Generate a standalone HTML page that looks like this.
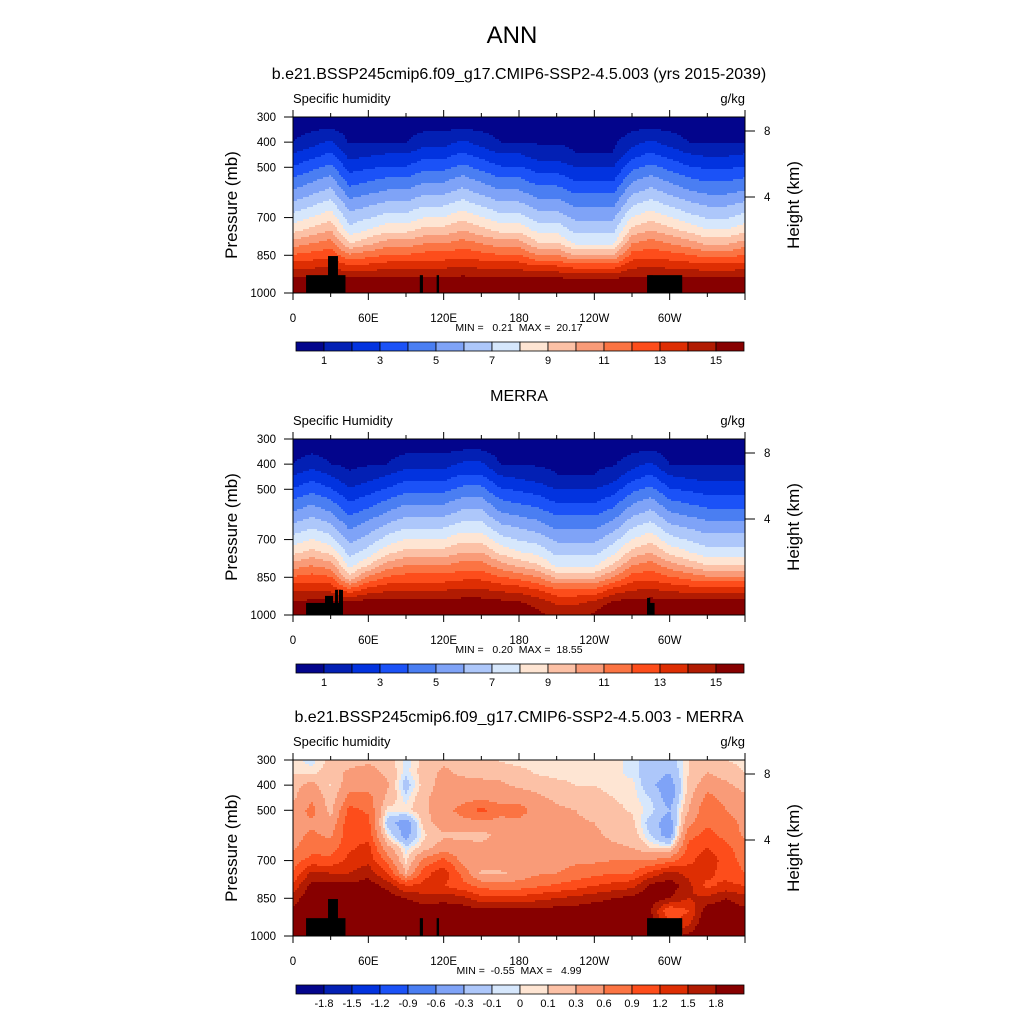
<!DOCTYPE html>
<html><head><meta charset="utf-8"><style>
html,body{margin:0;padding:0;background:#fff;}
svg{display:block;font-family:"Liberation Sans",Arial,sans-serif;}
.pre{white-space:pre;}
</style></head><body>
<svg id="fig" width="1024" height="1024" viewBox="0 0 1024 1024" xmlns="http://www.w3.org/2000/svg">
<rect x="0" y="0" width="1024" height="1024" fill="#fff"/>
<text x="512" y="43" text-anchor="middle" font-size="24">ANN</text>
<text x="519" y="79" text-anchor="middle" font-size="16">b.e21.BSSP245cmip6.f09_g17.CMIP6-SSP2-4.5.003 (yrs 2015-2039)</text>
<text x="519" y="401" text-anchor="middle" font-size="16">MERRA</text>
<text x="519" y="722" text-anchor="middle" font-size="16">b.e21.BSSP245cmip6.f09_g17.CMIP6-SSP2-4.5.003 - MERRA</text>
</svg>
<script>
const levels=[300,350,400,450,500,550,600,650,700,750,800,850,900,950,1000];
const lons=[0,15,30,45,60,75,90,105,120,135,150,165,180,195,210,225,240,255,270,285,300,315,330,345,360];
const colors=['#03058c','#0320b4','#0233df','#1b52f7','#4a7ef2','#7fa3f7','#adc7fa','#d6e7fc','#fee5d3','#fcc1a6','#f99b78','#fb7443','#fd4d1b','#de2e03','#b11b02','#870000'];
const qThresholds=[1,2,3,4,5,6,7,8,9,10,11,12,13,14,15];
const qLabels=['1','3','5','7','9','11','13','15'];
const dThresholds=[-1.8,-1.5,-1.2,-0.9,-0.6,-0.3,-0.1,0,0.1,0.3,0.6,0.9,1.2,1.5,1.8];
const dLabels=['-1.8','-1.5','-1.2','-0.9','-0.6','-0.3','-0.1','0','0.1','0.3','0.6','0.9','1.2','1.5','1.8'];
const xTickLabels=['0','60E','120E','180','120W','60W'];
const xTickLons=[0,60,120,180,240,300];
const pTickLabels=['300','400','500','700','850','1000'];
const pTicks=[300,400,500,700,850,1000];
const hTickLabels=['8','4'];
const model=[
[0.3,0.65,1.0,2.1,3.1,4.2,5.2,6.3,7.4,8.7,10.4,12.1,13.8,15.5,17],
[0.3,0.88,1.6,2.65,3.7,4.8,5.8,6.9,8.05,9.35,10.9,12.4,13.95,15.5,17],
[0.3,1.1,2.2,3.2,4.3,5.4,6.4,7.5,8.7,10.0,11.4,12.7,14.1,15.5,17],
[0.3,0.6,0.9,1.6,2.6,3.5,4.5,5.5,6.4,7.4,8.9,11.2,13.4,15.5,17],
[0.3,0.63,0.95,1.85,2.85,3.85,4.85,5.9,6.9,8.05,9.65,11.65,13.6,15.5,17],
[0.3,0.65,1.0,2.1,3.1,4.2,5.2,6.3,7.4,8.7,10.4,12.1,13.8,15.5,17],
[0.3,0.65,1.0,2.1,3.1,4.2,5.2,6.3,7.4,8.7,10.4,12.1,13.8,15.5,17],
[0.3,0.88,1.6,2.65,3.7,4.8,5.8,6.9,8.05,9.35,10.9,12.4,13.95,15.5,17],
[0.3,0.88,1.6,2.65,3.7,4.8,5.8,6.9,8.05,9.35,10.9,12.4,13.95,15.5,17],
[0.3,1.1,2.2,3.2,4.3,5.4,6.4,7.5,8.7,10.0,11.4,12.7,14.1,15.5,17],
[0.3,0.88,1.6,2.65,3.7,4.8,5.8,6.9,8.05,9.35,10.9,12.4,13.95,15.5,17],
[0.3,0.65,1.0,2.1,3.1,4.2,5.2,6.3,7.4,8.7,10.4,12.1,13.8,15.5,17],
[0.3,0.65,1.0,2.1,3.1,4.2,5.2,6.3,7.4,8.7,10.4,12.1,13.8,15.5,17],
[0.3,0.59,0.89,1.55,2.55,3.55,4.55,5.55,6.6,7.7,9.05,11.05,13.35,15.45,16.75],
[0.3,0.59,0.89,1.55,2.55,3.55,4.55,5.55,6.6,7.7,9.05,11.05,13.35,15.45,16.75],
[0.3,0.5,0.8,1.05,2.0,2.9,3.9,4.8,5.8,6.7,7.7,10.0,12.9,15.4,16.5],
[0.3,0.5,0.8,1.05,2.0,2.9,3.9,4.8,5.8,6.7,7.7,10.0,12.9,15.4,16.5],
[0.3,0.5,0.8,1.05,2.0,2.9,3.9,4.8,5.8,6.7,7.7,10.0,12.9,15.4,16.5],
[0.3,0.88,1.6,2.65,3.7,4.8,5.8,6.9,8.05,9.35,10.9,12.4,13.95,15.5,17],
[0.3,1.1,2.2,3.2,4.3,5.4,6.4,7.5,8.7,10.0,11.4,12.7,14.1,15.5,17],
[0.3,0.88,1.6,2.65,3.7,4.8,5.8,6.9,8.05,9.35,10.9,12.4,13.95,15.5,17],
[0.3,0.65,1.0,2.1,3.1,4.2,5.2,6.3,7.4,8.7,10.4,12.1,13.8,15.5,17],
[0.3,0.63,0.95,1.85,2.85,3.85,4.85,5.9,6.9,8.05,9.65,11.65,13.6,15.5,17],
[0.3,0.63,0.95,1.85,2.85,3.85,4.85,5.9,6.9,8.05,9.65,11.65,13.6,15.5,17],
[0.3,0.65,1.0,2.1,3.1,4.2,5.2,6.3,7.4,8.7,10.4,12.1,13.8,15.5,17]
];
const merra=[
[0.3,0.65,1.0,2.1,3.1,4.2,5.2,6.3,7.4,8.7,10.4,12.1,13.8,15.1,16.5],
[0.3,0.88,1.6,2.65,3.7,4.8,5.8,6.9,8.05,9.35,10.9,12.4,13.95,15.3,16.8],
[0.3,0.65,1.0,2.1,3.1,4.2,5.2,6.3,7.4,8.7,10.4,12.1,13.8,15.3,16.8],
[0.3,0.55,0.8,1.2,2.1,3.0,3.9,4.8,5.7,6.6,7.6,9.3,12.3,15.3,16.5],
[0.3,0.6,0.9,1.6,2.6,3.5,4.5,5.5,6.4,7.4,8.9,11.2,13.4,15.5,17],
[0.3,0.65,1.0,2.1,3.1,4.2,5.2,6.3,7.4,8.7,10.4,12.1,13.8,15.5,17],
[0.3,0.88,1.6,2.65,3.7,4.8,5.8,6.9,8.05,9.35,10.9,12.4,13.95,15.5,17],
[0.3,0.88,1.6,2.65,3.7,4.8,5.8,6.9,8.05,9.35,10.9,12.4,13.95,15.5,17],
[0.3,0.88,1.6,2.65,3.7,4.8,5.8,6.9,8.05,9.35,10.9,12.4,13.95,15.5,17],
[0.3,1.1,2.2,3.2,4.3,5.4,6.4,7.5,8.7,10.0,11.4,12.7,14.1,15.5,17],
[0.3,1.1,2.2,3.2,4.3,5.4,6.4,7.5,8.7,10.0,11.4,12.7,14.1,15.5,17],
[0.3,0.65,1.0,2.1,3.1,4.2,5.2,6.3,7.4,8.7,10.4,12.1,13.8,15.3,16.5],
[0.3,0.63,0.95,1.85,2.85,3.85,4.85,5.9,6.9,8.05,9.65,11.65,13.6,15.1,16.0],
[0.3,0.59,0.89,1.55,2.55,3.55,4.55,5.55,6.6,7.7,9.05,11.05,13.0,14.6,15.3],
[0.3,0.5,0.8,1.05,2.0,2.9,3.9,4.8,5.8,6.7,7.7,9.8,12.2,13.8,14.6],
[0.3,0.5,0.8,1.05,2.0,2.9,3.9,4.8,5.8,6.7,7.7,9.8,12.2,13.8,14.6],
[0.3,0.5,0.8,1.05,2.0,2.9,3.9,4.8,5.8,6.7,7.7,9.8,12.2,14.2,15.2],
[0.3,0.59,0.89,1.55,2.55,3.55,4.55,5.55,6.6,7.7,9.05,11.05,13.35,15.2,16.5],
[0.3,0.88,1.6,2.65,3.7,4.8,5.8,6.9,8.05,9.35,10.9,12.4,13.95,15.5,17],
[0.3,1.1,2.2,3.2,4.3,5.4,6.4,7.5,8.7,10.0,11.4,12.7,14.1,15.5,17],
[0.3,0.65,1.0,2.1,3.1,4.2,5.2,6.3,7.4,8.7,10.4,12.1,13.8,15.5,17],
[0.3,0.63,0.95,1.85,2.85,3.85,4.85,5.9,6.9,8.05,9.65,11.65,13.6,15.5,17],
[0.3,0.6,0.9,1.6,2.6,3.5,4.5,5.5,6.4,7.4,8.9,11.2,13.4,15.5,17],
[0.3,0.6,0.9,1.6,2.6,3.5,4.5,5.5,6.4,7.4,8.9,11.2,13.4,15.5,17],
[0.3,0.6,0.9,1.6,2.6,3.5,4.5,5.5,6.4,7.4,8.9,11.2,13.4,15.5,17]
];
const diff=[
[0.05,0.08,0.2,0.25,0.4,0.5,0.5,0.55,0.8,0.9,1.3,1.6,1.9,2.1,2.2],
[-0.05,0.05,0.4,0.55,0.7,0.55,0.65,0.8,1.0,1.6,1.9,2.1,2.3,2.3,2.3],
[0.15,0.2,0.08,0.15,0.2,0.4,0.55,0.75,1.0,1.5,1.9,2.1,2.2,2.2,2.2],
[0.2,0.35,0.45,0.7,1.0,1.1,1.1,1.15,1.3,1.5,1.9,2.1,2.3,2.3,2.3],
[0.25,0.4,0.5,0.7,0.85,1.0,1.1,1.3,1.4,1.7,1.95,2.1,2.3,2.3,2.3],
[0.2,0.25,0.35,0.25,0.05,-0.2,0.05,0.4,0.8,1.2,1.7,2.0,2.2,2.3,2.3],
[-0.05,-0.05,-0.2,-0.05,0.05,-0.45,-0.4,-0.05,0.05,0.3,1.2,1.8,2.1,2.2,2.2],
[0.15,0.2,0.2,0.25,0.25,0.2,0.08,0.2,0.7,1.1,1.3,1.6,2.0,2.2,2.2],
[0.25,0.35,0.4,0.45,0.5,0.45,0.25,0.45,1.0,1.4,1.2,1.7,2.0,2.2,2.2],
[0.2,0.25,0.4,0.5,0.7,0.5,0.25,0.4,0.5,0.8,1.0,1.6,2.0,2.2,2.2],
[0.2,0.25,0.35,0.5,1.0,0.5,0.2,0.4,0.45,0.25,0.8,1.3,1.9,2.1,2.2],
[0.08,0.2,0.35,0.5,0.7,0.5,0.4,0.45,0.5,0.25,0.7,1.3,1.9,2.1,2.2],
[0.05,0.15,0.25,0.45,0.75,0.5,0.45,0.45,0.5,0.4,0.75,1.3,1.9,2.0,2.1],
[0.05,0.08,0.2,0.35,0.45,0.4,0.4,0.45,0.5,0.55,0.85,1.4,1.9,2.0,2.0],
[0.05,0.05,0.15,0.25,0.35,0.35,0.4,0.45,0.5,0.6,0.95,1.5,1.95,2.0,2.0],
[0.05,0.05,0.1,0.2,0.3,0.35,0.4,0.45,0.55,0.7,1.05,1.6,1.95,2.0,2.0],
[0.05,0.05,0.1,0.15,0.2,0.3,0.35,0.4,0.55,0.8,1.2,1.7,2.0,2.1,2.2],
[0.05,0.05,0.05,0.1,0.15,0.2,0.25,0.35,0.6,0.9,1.3,1.8,2.0,2.1,2.2],
[-0.05,-0.05,0.05,0.05,0.08,0.15,0.2,0.3,0.6,0.9,1.4,1.9,2.0,2.2,2.2],
[-0.2,-0.2,-0.25,-0.1,-0.05,-0.2,-0.1,0.1,0.6,1.3,1.9,2.0,1.8,2.0,2.2],
[-0.2,-0.3,-0.45,-0.45,-0.3,-0.45,-0.45,0.05,0.8,1.6,2.0,1.8,0.9,1.2,1.7],
[0.1,0.1,0.15,0.2,0.3,0.5,0.8,1.0,1.1,1.4,1.6,1.5,1.2,1.4,1.9],
[0.2,0.3,0.45,0.7,0.85,0.85,1.0,1.2,1.4,1.3,1.1,1.6,2.0,2.2,2.2],
[0.1,0.2,0.35,0.5,0.6,0.75,0.8,1.0,1.05,1.05,1.3,1.8,2.0,2.2,2.2],
[0.05,0.1,0.2,0.35,0.45,0.5,0.55,0.7,0.8,0.9,1.2,1.6,1.9,2.1,2.2]
];
const maskModel=[[10.4,41.8,929],[27.9,35.8,853],[101,103.5,929],[114.4,116.3,929],[282,310,929]];
const maskMerra=[[10.4,39.8,952],[25.5,31.9,924],[33.5,35.8,900],[36.6,39.8,900],[282,288,952],[282,284.5,932]];

const NS='http://www.w3.org/2000/svg';
const svg=document.getElementById('fig');
const X0=293,X1=745;
function mk(tag,attrs,parent){const e=document.createElementNS(NS,tag);for(const k in attrs)e.setAttribute(k,attrs[k]);(parent||svg).appendChild(e);return e;}
function xS(lon){return X0+lon*(X1-X0)/360;}
function classOf(v,th){let c=0;for(const t of th){if(v>=t)c++;}return c;}
function sample(data,lon,p){
  let i=Math.min(lons.length-2,Math.max(0,Math.floor(lon/15)));
  let fx=(lon-lons[i])/15;fx=Math.max(0,Math.min(1,fx));
  let j=Math.min(levels.length-2,Math.max(0,Math.floor((p-300)/50)));
  let fy=(p-levels[j])/50;fy=Math.max(0,Math.min(1,fy));
  const a=data[i][j],b=data[i+1][j],c=data[i][j+1],d=data[i+1][j+1];
  return a*(1-fx)*(1-fy)+b*fx*(1-fy)+c*(1-fx)*fy+d*fx*fy;
}
function panel(idx,top,data,th,masks,label,minmax,ticksLab,thLabels){
  const yS=p=>top+(p-300)*176/700;
  const g=mk('g',{'shape-rendering':'crispEdges'});
  
  
  const W=X1-X0,H=176,st=2;
  for(let r=0;r<H;r+=st){
    const p=300+(r+st/2)*700/H;
    let runStart=0,runC=-1;
    for(let c=0;c<=W;c+=st){
      let cls=-2;
      if(c<W){const lon=(c+st/2)*360/W;cls=classOf(sample(data,lon,p),th);}
      if(cls!==runC){
        if(runC>=0){
          const rc=mk('rect',{x:X0+runStart,y:top+r,width:Math.min(c,W)-runStart,height:Math.min(st,H-r),fill:colors[runC]},g);
          
          
        }
        runStart=c;runC=cls;
      }
    }
  }
  for(const m of masks){
    const b=mk('rect',{x:xS(m[0]),y:yS(m[2]),width:xS(m[1])-xS(m[0]),height:yS(1000)-yS(m[2]),fill:'#000'});
    
    
  }
  const fr=mk('rect',{x:X0,y:top,width:W,height:H,fill:'none',stroke:'#000','stroke-width':1});
  
  
  for(let l=0;l<=360;l+=30){
    const x=xS(l),len=(l%60===0)?7:4;
    const t1=mk('line',{x1:x,x2:x,y1:top,y2:top-len,stroke:'#000'});
    
    
    const t2=mk('line',{x1:x,x2:x,y1:top+H,y2:top+H+len,stroke:'#000'});
    
    
  }
  xTickLabels.forEach((s,k)=>{
    const t=mk('text',{x:xS(xTickLons[k]),y:top+H+29,'text-anchor':'middle','font-size':11.5});
    t.textContent=s;
    
    
  });
  pTicks.forEach((p,k)=>{
    const y=yS(p);
    const l=mk('line',{x1:X0-9,x2:X0,y1:y,y2:y,stroke:'#000'});
    
    
    const t=mk('text',{x:X0-17,y:y+4,'text-anchor':'end','font-size':11.5});
    t.textContent=pTickLabels[k];
    
    
  });
  [14,80].forEach((dy,k)=>{
    const y=top+dy;
    const l=mk('line',{x1:X1,x2:X1+10,y1:y,y2:y,stroke:'#000'});
    
    
    const t=mk('text',{x:X1+19,y:y+4,'font-size':11.5});
    t.textContent=hTickLabels[k];
    
    
  });
  const yt=mk('text',{x:0,y:0,'text-anchor':'middle','font-size':17,transform:`translate(237,${top+88}) rotate(-90)`});
  yt.textContent='Pressure (mb)';
  
  
  const ht=mk('text',{x:0,y:0,'text-anchor':'middle','font-size':17,transform:`translate(799,${top+88}) rotate(-90)`});
  ht.textContent='Height (km)';
  
  
  const lt=mk('text',{x:X0,y:top-14,'font-size':13});
  lt.textContent=label;
  
  
  const ut=mk('text',{x:X1,y:top-14,'text-anchor':'end','font-size':13});
  ut.textContent='g/kg';
  
  
  const mm=mk('text',{x:519,y:top+H+38,'text-anchor':'middle','font-size':10.5,'class':'pre'});
  mm.textContent=minmax;
  
  
  const cy=top+225,cx0=296,cw=(744-296)/16;
  for(let k=0;k<16;k++){
    const r=mk('rect',{x:cx0+k*cw,y:cy,width:cw,height:9,fill:colors[k],stroke:'#000','stroke-width':0.8});
    
    
  }
  ticksLab.forEach((s,k)=>{
    const pos=thLabels?k+1:2*k+1;
    const t=mk('text',{x:cx0+pos*cw,y:cy+22,'text-anchor':'middle','font-size':11});
    t.textContent=s;
    
    
  });
}
panel(1,117,model,qThresholds,maskModel,'Specific humidity','MIN =   0.21  MAX =  20.17',qLabels,false);
panel(2,439,merra,qThresholds,maskMerra,'Specific Humidity','MIN =   0.20  MAX =  18.55',qLabels,false);
panel(3,760,diff,dThresholds,maskModel,'Specific humidity','MIN =  -0.55  MAX =   4.99',dLabels,true);
</script>
</body></html>
